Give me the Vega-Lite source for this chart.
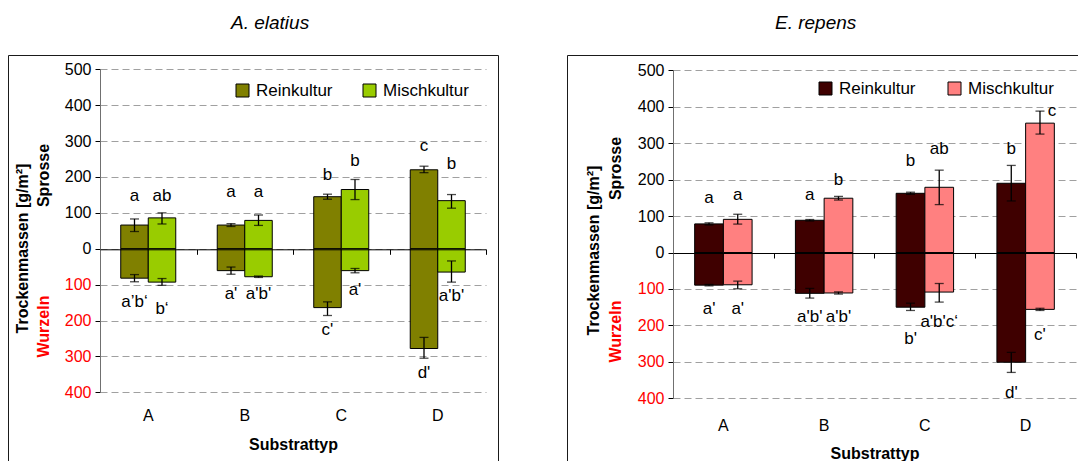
{
  "$schema": "https://vega.github.io/schema/vega-lite/v6.json",
  "padding": {"left": 7, "top": 13, "right": 0, "bottom": 0},
  "config": {
    "font": "Liberation Sans",
    "view": {"stroke": "#1a1a1a", "strokeWidth": 1},
    "axis": {"labelFont": "Liberation Sans", "titleFont": "Liberation Sans", "labelColor": "black", "titleColor": "black"},
    "legend": {"labelFont": "Liberation Sans"},
    "title": {"font": "Liberation Sans", "fontSize": 19, "fontStyle": "italic", "fontWeight": "normal", "anchor": "start", "offset": 22, "color": "black"}
  },
  "data": {"values": [
    {"Art": "A. elatius", "Substrattyp": "A", "Kultur": "Reinkultur", "Teil": "Spross", "Wert": 66, "lo": 48, "hi": 83, "Etikett": "a", "EtikettWert": 147},
    {"Art": "A. elatius", "Substrattyp": "A", "Kultur": "Mischkultur", "Teil": "Spross", "Wert": 86, "lo": 69, "hi": 100, "Etikett": "ab", "EtikettWert": 147},
    {"Art": "A. elatius", "Substrattyp": "B", "Kultur": "Reinkultur", "Teil": "Spross", "Wert": 66, "lo": 62, "hi": 70, "Etikett": "a", "EtikettWert": 158},
    {"Art": "A. elatius", "Substrattyp": "B", "Kultur": "Mischkultur", "Teil": "Spross", "Wert": 79, "lo": 65, "hi": 94, "Etikett": "a", "EtikettWert": 158},
    {"Art": "A. elatius", "Substrattyp": "C", "Kultur": "Reinkultur", "Teil": "Spross", "Wert": 145, "lo": 138, "hi": 152, "Etikett": "b", "EtikettWert": 205},
    {"Art": "A. elatius", "Substrattyp": "C", "Kultur": "Mischkultur", "Teil": "Spross", "Wert": 165, "lo": 137, "hi": 193, "Etikett": "b", "EtikettWert": 244},
    {"Art": "A. elatius", "Substrattyp": "D", "Kultur": "Reinkultur", "Teil": "Spross", "Wert": 220, "lo": 212, "hi": 230, "Etikett": "c", "EtikettWert": 286},
    {"Art": "A. elatius", "Substrattyp": "D", "Kultur": "Mischkultur", "Teil": "Spross", "Wert": 134, "lo": 113, "hi": 151, "Etikett": "b", "EtikettWert": 235},
    {"Art": "A. elatius", "Substrattyp": "A", "Kultur": "Reinkultur", "Teil": "Wurzel", "Wert": -82, "lo": -92, "hi": -72, "Etikett": "a’b‘", "EtikettWert": -147},
    {"Art": "A. elatius", "Substrattyp": "A", "Kultur": "Mischkultur", "Teil": "Wurzel", "Wert": -93, "lo": -102, "hi": -83, "Etikett": "b‘", "EtikettWert": -167},
    {"Art": "A. elatius", "Substrattyp": "B", "Kultur": "Reinkultur", "Teil": "Wurzel", "Wert": -61, "lo": -71, "hi": -51, "Etikett": "a'", "EtikettWert": -127},
    {"Art": "A. elatius", "Substrattyp": "B", "Kultur": "Mischkultur", "Teil": "Wurzel", "Wert": -78, "lo": -80, "hi": -76, "Etikett": "a'b'", "EtikettWert": -127},
    {"Art": "A. elatius", "Substrattyp": "C", "Kultur": "Reinkultur", "Teil": "Wurzel", "Wert": -164, "lo": -186, "hi": -148, "Etikett": "c'", "EtikettWert": -227},
    {"Art": "A. elatius", "Substrattyp": "C", "Kultur": "Mischkultur", "Teil": "Wurzel", "Wert": -61, "lo": -67, "hi": -55, "Etikett": "a'", "EtikettWert": -114},
    {"Art": "A. elatius", "Substrattyp": "D", "Kultur": "Reinkultur", "Teil": "Wurzel", "Wert": -278, "lo": -305, "hi": -247, "Etikett": "d'", "EtikettWert": -346},
    {"Art": "A. elatius", "Substrattyp": "D", "Kultur": "Mischkultur", "Teil": "Wurzel", "Wert": -65, "lo": -93, "hi": -34, "Etikett": "a'b'", "EtikettWert": -133},
    {"Art": "E. repens", "Substrattyp": "A", "Kultur": "Reinkultur", "Teil": "Spross", "Wert": 78.5, "lo": 75.5, "hi": 81.5, "Etikett": "a", "EtikettWert": 150},
    {"Art": "E. repens", "Substrattyp": "A", "Kultur": "Mischkultur", "Teil": "Spross", "Wert": 91, "lo": 78, "hi": 105, "Etikett": "a", "EtikettWert": 159},
    {"Art": "E. repens", "Substrattyp": "B", "Kultur": "Reinkultur", "Teil": "Spross", "Wert": 88.5, "lo": 86.5, "hi": 90.5, "Etikett": "a", "EtikettWert": 159},
    {"Art": "E. repens", "Substrattyp": "B", "Kultur": "Mischkultur", "Teil": "Spross", "Wert": 149, "lo": 144, "hi": 154, "Etikett": "b", "EtikettWert": 200},
    {"Art": "E. repens", "Substrattyp": "C", "Kultur": "Reinkultur", "Teil": "Spross", "Wert": 162.5, "lo": 159.5, "hi": 165.5, "Etikett": "b", "EtikettWert": 250},
    {"Art": "E. repens", "Substrattyp": "C", "Kultur": "Mischkultur", "Teil": "Spross", "Wert": 179, "lo": 131.5, "hi": 226, "Etikett": "ab", "EtikettWert": 284},
    {"Art": "E. repens", "Substrattyp": "D", "Kultur": "Reinkultur", "Teil": "Spross", "Wert": 190, "lo": 141.5, "hi": 239, "Etikett": "b", "EtikettWert": 284},
    {"Art": "E. repens", "Substrattyp": "D", "Kultur": "Mischkultur", "Teil": "Spross", "Wert": 355, "lo": 325, "hi": 388, "Etikett": "c", "EtikettWert": 389},
    {"Art": "E. repens", "Substrattyp": "A", "Kultur": "Reinkultur", "Teil": "Wurzel", "Wert": -89.5, "lo": -91.5, "hi": -87.5, "Etikett": "a'", "EtikettWert": -155},
    {"Art": "E. repens", "Substrattyp": "A", "Kultur": "Mischkultur", "Teil": "Wurzel", "Wert": -88.5, "lo": -99.5, "hi": -78.5, "Etikett": "a'", "EtikettWert": -155},
    {"Art": "E. repens", "Substrattyp": "B", "Kultur": "Reinkultur", "Teil": "Wurzel", "Wert": -112, "lo": -125, "hi": -98.5, "Etikett": "a'b'", "EtikettWert": -178},
    {"Art": "E. repens", "Substrattyp": "B", "Kultur": "Mischkultur", "Teil": "Wurzel", "Wert": -111, "lo": -114, "hi": -108, "Etikett": "a'b'", "EtikettWert": -178},
    {"Art": "E. repens", "Substrattyp": "C", "Kultur": "Reinkultur", "Teil": "Wurzel", "Wert": -150, "lo": -159, "hi": -139, "Etikett": "b'", "EtikettWert": -237},
    {"Art": "E. repens", "Substrattyp": "C", "Kultur": "Mischkultur", "Teil": "Wurzel", "Wert": -108.5, "lo": -136, "hi": -85, "Etikett": "a'b'c‘", "EtikettWert": -192},
    {"Art": "E. repens", "Substrattyp": "D", "Kultur": "Reinkultur", "Teil": "Wurzel", "Wert": -301, "lo": -329, "hi": -274, "Etikett": "d'", "EtikettWert": -385},
    {"Art": "E. repens", "Substrattyp": "D", "Kultur": "Mischkultur", "Teil": "Wurzel", "Wert": -156, "lo": -159, "hi": -153, "Etikett": "c'", "EtikettWert": -225}
  ]},
  "spacing": 67,
  "resolve": {"scale": {"color": "independent", "x": "independent", "y": "independent", "xOffset": "independent"}},
  "hconcat": [
    {
      "width": 490,
      "height": 412,
      "title": {"text": "A. elatius", "dx": 223},
      "transform": [{"filter": "datum.Art === 'A. elatius'"}],
      "encoding": {
        "xOffset": {"field": "Kultur", "type": "nominal", "sort": ["Reinkultur", "Mischkultur"], "scale": {"paddingInner": 0, "paddingOuter": 0}}
      },
      "resolve": {"axis": {"x": "independent", "y": "independent"}},
      "layer": [
        {
          "mark": {"type": "bar", "stroke": "black", "strokeWidth": 1},
          "encoding": {
            "x": {"field": "Substrattyp", "type": "nominal", "sort": ["A", "B", "C", "D"], "scale": {"range": [92, 478], "paddingInner": 0.43, "paddingOuter": 0.215},
              "axis": {"orient": "bottom", "offset": -62, "domain": false, "ticks": false, "labelAngle": 0, "labelFontSize": 16, "labelPadding": 2, "grid": false, "title": "Substrattyp", "titleFontSize": 16, "titleFontWeight": "bold", "titlePadding": 13}},
            "y": {"field": "Wert", "type": "quantitative", "scale": {"domain": [-400, 500], "range": [337.3, 14.3], "nice": false, "zero": false},
              "axis": {"orient": "left", "offset": -92, "values": [-400, -300, -200, -100, 0, 100, 200, 300, 400, 500], "labelExpr": "abs(datum.value)", "labelColor": {"condition": {"test": "datum.value < 0", "value": "#ff0000"}, "value": "black"}, "labelFontSize": 16, "labelPadding": 4, "tickSize": 5, "tickColor": "black", "domainColor": "#707070", "grid": true, "gridColor": "#a0a0a0", "gridDash": [7, 4], "title": "Sprosse", "titleX": -57, "titleY": 120, "titleAngle": -90, "titleAlign": "center", "titleBaseline": "middle", "titleFontSize": 16, "titleFontWeight": "bold", "titleColor": "black"}},
            "y2": {"datum": 0},
            "color": {"field": "Kultur", "type": "nominal", "sort": ["Reinkultur", "Mischkultur"], "scale": {"domain": ["Reinkultur", "Mischkultur"], "range": ["#808000", "#99cc00"]},
              "legend": {"orient": "none", "legendX": 226, "legendY": 27, "direction": "horizontal", "title": null, "symbolType": "square", "symbolSize": 169, "symbolStrokeColor": "black", "symbolStrokeWidth": 1, "symbolOpacity": 1, "labelFontSize": 17, "labelOffset": 5, "columnPadding": 28, "labelColor": "black"}}
          }
        },
        {
          "mark": {"type": "rule", "color": "black", "strokeWidth": 1.3},
          "encoding": {
            "x": {"field": "Substrattyp", "type": "nominal", "sort": ["A", "B", "C", "D"], "scale": {"range": [92, 478], "paddingInner": 0.43, "paddingOuter": 0.215},
              "axis": {"orient": "bottom", "offset": -217.7, "domain": true, "domainColor": "black", "domainWidth": 1, "ticks": true, "tickColor": "black", "tickSize": 5, "bandPosition": 1, "tickOffset": 20.75, "tickExtra": false, "labels": false, "grid": false, "title": null, "zindex": 1}},
            "y": {"field": "lo", "type": "quantitative", "scale": {"domain": [-400, 500], "range": [337.3, 14.3], "nice": false, "zero": false},
              "axis": {"orient": "left", "offset": -92, "labels": false, "ticks": false, "domain": false, "grid": false, "title": "Wurzeln", "titleX": -57, "titleY": 271, "titleAngle": -90, "titleAlign": "center", "titleBaseline": "middle", "titleFontSize": 16, "titleFontWeight": "bold", "titleColor": "#ff0000"}},
            "y2": {"field": "hi"}
          }
        },
        {
          "mark": {"type": "tick", "color": "black", "thickness": 1.3, "size": 9},
          "encoding": {
            "x": {"field": "Substrattyp", "type": "nominal", "sort": ["A", "B", "C", "D"], "scale": {"range": [92, 478], "paddingInner": 0.43, "paddingOuter": 0.215}, "axis": null},
            "y": {"field": "hi", "type": "quantitative", "scale": {"domain": [-400, 500], "range": [337.3, 14.3], "nice": false, "zero": false}, "axis": null}
          }
        },
        {
          "mark": {"type": "tick", "color": "black", "thickness": 1.3, "size": 9},
          "encoding": {
            "x": {"field": "Substrattyp", "type": "nominal", "sort": ["A", "B", "C", "D"], "scale": {"range": [92, 478], "paddingInner": 0.43, "paddingOuter": 0.215}, "axis": null},
            "y": {"field": "lo", "type": "quantitative", "scale": {"domain": [-400, 500], "range": [337.3, 14.3], "nice": false, "zero": false}, "axis": null}
          }
        },
        {
          "mark": {"type": "text", "fontSize": 17, "baseline": "middle", "align": "center", "color": "black"},
          "encoding": {
            "x": {"field": "Substrattyp", "type": "nominal", "sort": ["A", "B", "C", "D"], "scale": {"range": [92, 478], "paddingInner": 0.43, "paddingOuter": 0.215}, "axis": null},
            "y": {"field": "EtikettWert", "type": "quantitative", "scale": {"domain": [-400, 500], "range": [337.3, 14.3], "nice": false, "zero": false},
              "axis": {"orient": "left", "offset": -92, "labels": false, "ticks": false, "domain": false, "grid": false, "title": "Trockenmassen [g/m²]", "titleX": -78, "titleY": 193, "titleAngle": -90, "titleAlign": "center", "titleBaseline": "middle", "titleFontSize": 16, "titleFontWeight": "bold", "titleColor": "black"}},
            "text": {"field": "Etikett"}
          }
        }
      ]
    },
    {
      "width": 525,
      "height": 412,
      "title": {"text": "E. repens", "dx": 208},
      "transform": [{"filter": "datum.Art === 'E. repens'"}],
      "encoding": {
        "xOffset": {"field": "Kultur", "type": "nominal", "sort": ["Reinkultur", "Mischkultur"], "scale": {"paddingInner": 0, "paddingOuter": 0}}
      },
      "resolve": {"axis": {"x": "independent", "y": "independent"}},
      "layer": [
        {
          "mark": {"type": "bar", "stroke": "black", "strokeWidth": 1},
          "encoding": {
            "x": {"field": "Substrattyp", "type": "nominal", "sort": ["A", "B", "C", "D"], "scale": {"range": [106, 509], "paddingInner": 0.43, "paddingOuter": 0.215},
              "axis": {"orient": "bottom", "offset": -52, "domain": false, "ticks": false, "labelAngle": 0, "labelFontSize": 16, "labelPadding": 2, "grid": false, "title": "Substrattyp", "titleFontSize": 16, "titleFontWeight": "bold", "titlePadding": 12}},
            "y": {"field": "Wert", "type": "quantitative", "scale": {"domain": [-400, 500], "range": [343.3, 15.3], "nice": false, "zero": false},
              "axis": {"orient": "left", "offset": -106, "values": [-400, -300, -200, -100, 0, 100, 200, 300, 400, 500], "labelExpr": "abs(datum.value)", "labelColor": {"condition": {"test": "datum.value < 0", "value": "#ff0000"}, "value": "black"}, "labelFontSize": 16, "labelPadding": 4, "tickSize": 5, "tickColor": "black", "domainColor": "#707070", "grid": true, "gridColor": "#a0a0a0", "gridDash": [7, 4], "title": "Sprosse", "titleX": -58, "titleY": 113, "titleAngle": -90, "titleAlign": "center", "titleBaseline": "middle", "titleFontSize": 16, "titleFontWeight": "bold", "titleColor": "black"}},
            "y2": {"datum": 0},
            "color": {"field": "Kultur", "type": "nominal", "sort": ["Reinkultur", "Mischkultur"], "scale": {"domain": ["Reinkultur", "Mischkultur"], "range": ["#3f0000", "#ff8080"]},
              "legend": {"orient": "none", "legendX": 250, "legendY": 25, "direction": "horizontal", "title": null, "symbolType": "square", "symbolSize": 169, "symbolStrokeColor": "black", "symbolStrokeWidth": 1, "symbolOpacity": 1, "labelFontSize": 17, "labelOffset": 5, "columnPadding": 30, "labelColor": "black"}}
          }
        },
        {
          "mark": {"type": "rule", "color": "black", "strokeWidth": 1.3},
          "encoding": {
            "x": {"field": "Substrattyp", "type": "nominal", "sort": ["A", "B", "C", "D"], "scale": {"range": [106, 509], "paddingInner": 0.43, "paddingOuter": 0.215},
              "axis": {"orient": "bottom", "offset": -214, "domain": true, "domainColor": "black", "domainWidth": 1, "ticks": true, "tickColor": "black", "tickSize": 5, "bandPosition": 1, "tickOffset": 21.66, "tickExtra": false, "labels": false, "grid": false, "title": null, "zindex": 1}},
            "y": {"field": "lo", "type": "quantitative", "scale": {"domain": [-400, 500], "range": [343.3, 15.3], "nice": false, "zero": false},
              "axis": {"orient": "left", "offset": -106, "labels": false, "ticks": false, "domain": false, "grid": false, "title": "Wurzeln", "titleX": -58, "titleY": 276, "titleAngle": -90, "titleAlign": "center", "titleBaseline": "middle", "titleFontSize": 16, "titleFontWeight": "bold", "titleColor": "#ff0000"}},
            "y2": {"field": "hi"}
          }
        },
        {
          "mark": {"type": "tick", "color": "black", "thickness": 1.3, "size": 9},
          "encoding": {
            "x": {"field": "Substrattyp", "type": "nominal", "sort": ["A", "B", "C", "D"], "scale": {"range": [106, 509], "paddingInner": 0.43, "paddingOuter": 0.215}, "axis": null},
            "y": {"field": "hi", "type": "quantitative", "scale": {"domain": [-400, 500], "range": [343.3, 15.3], "nice": false, "zero": false}, "axis": null}
          }
        },
        {
          "mark": {"type": "tick", "color": "black", "thickness": 1.3, "size": 9},
          "encoding": {
            "x": {"field": "Substrattyp", "type": "nominal", "sort": ["A", "B", "C", "D"], "scale": {"range": [106, 509], "paddingInner": 0.43, "paddingOuter": 0.215}, "axis": null},
            "y": {"field": "lo", "type": "quantitative", "scale": {"domain": [-400, 500], "range": [343.3, 15.3], "nice": false, "zero": false}, "axis": null}
          }
        },
        {
          "transform": [{"filter": "!(datum.Substrattyp === 'D' && datum.Kultur === 'Mischkultur' && datum.Teil === 'Spross')"}],
          "mark": {"type": "text", "fontSize": 17, "baseline": "middle", "align": "center", "color": "black"},
          "encoding": {
            "x": {"field": "Substrattyp", "type": "nominal", "sort": ["A", "B", "C", "D"], "scale": {"range": [106, 509], "paddingInner": 0.43, "paddingOuter": 0.215}, "axis": null},
            "y": {"field": "EtikettWert", "type": "quantitative", "scale": {"domain": [-400, 500], "range": [343.3, 15.3], "nice": false, "zero": false},
              "axis": {"orient": "left", "offset": -106, "labels": false, "ticks": false, "domain": false, "grid": false, "title": "Trockenmassen [g/m²]", "titleX": -80, "titleY": 195, "titleAngle": -90, "titleAlign": "center", "titleBaseline": "middle", "titleFontSize": 16, "titleFontWeight": "bold", "titleColor": "black"}},
            "text": {"field": "Etikett"}
          }
        },
        {
          "transform": [{"filter": "datum.Substrattyp === 'D' && datum.Kultur === 'Mischkultur' && datum.Teil === 'Spross'"}],
          "mark": {"type": "text", "fontSize": 17, "baseline": "middle", "align": "center", "color": "black", "dx": 12},
          "encoding": {
            "x": {"field": "Substrattyp", "type": "nominal", "sort": ["A", "B", "C", "D"], "scale": {"range": [106, 509], "paddingInner": 0.43, "paddingOuter": 0.215}, "axis": null},
            "y": {"field": "EtikettWert", "type": "quantitative", "scale": {"domain": [-400, 500], "range": [343.3, 15.3], "nice": false, "zero": false}, "axis": null},
            "text": {"field": "Etikett"}
          }
        }
      ]
    }
  ]
}
